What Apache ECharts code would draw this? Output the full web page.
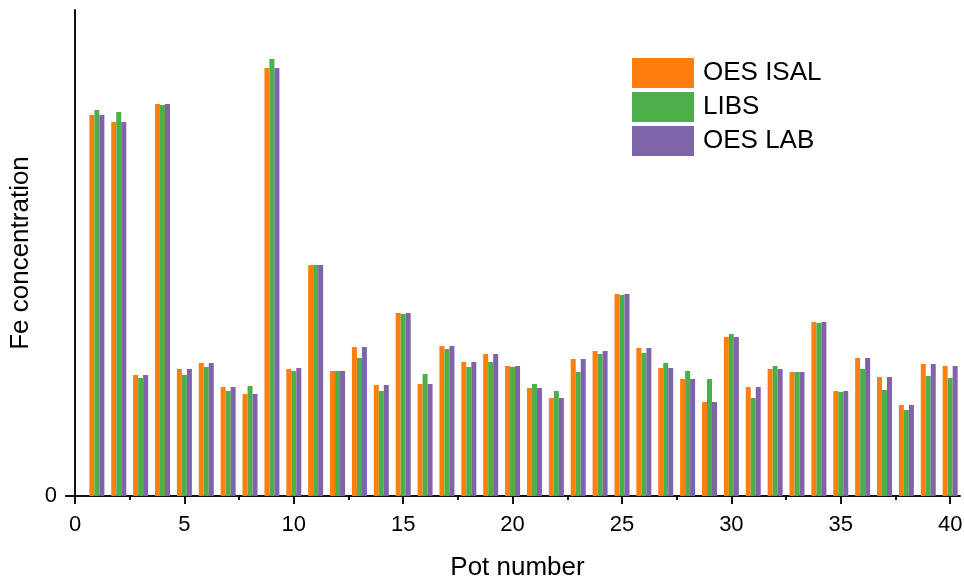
<!DOCTYPE html>
<html>
	<head>
		<meta charset="UTF-8">
		<title></title>
		<script src="https://cdn.jsdelivr.net/npm/echarts@6/dist/echarts.min.js" type="text/javascript" charset="utf-8"></script>
	</head>
	<body style="margin: 0;">
		<div id="chart" style="height: 577px;width: 964px;"></div>
		<script type="text/javascript">
			var pots = [];
			for (var i = 1; i <= 40; i++) {
				pots.push(i);
			}
			var oesIsal = [381, 374, 121, 392, 127, 133, 109, 102, 428, 127,
				231, 125, 149, 111, 183, 112, 150, 134, 142, 130,
				108, 98, 137, 145, 202, 148, 128, 117, 94, 159,
				109, 127, 124, 174, 105, 138, 119, 91, 132, 130];
			var libs = [386, 384, 118, 391, 121, 129, 105, 110, 437, 125,
				231, 125, 138, 105, 182, 122, 147, 129, 134, 129,
				112, 105, 124, 142, 201, 143, 133, 125, 117, 162,
				98, 130, 124, 173, 104, 127, 106, 86, 120, 118];
			var oesLab = [381, 374, 121, 392, 127, 133, 109, 102, 428, 128,
				231, 125, 149, 111, 183, 112, 150, 134, 142, 130,
				108, 98, 137, 145, 202, 148, 128, 117, 94, 159,
				109, 127, 124, 174, 105, 138, 119, 91, 132, 130];
			var xTicks = [0, 5, 10, 15, 20, 25, 30, 35, 40];
			var xMinorTicks = [2.5, 7.5, 12.5, 17.5, 22.5, 27.5, 32.5, 37.5];
			var colors = ['#fe7f0e', '#4daf4a', '#8064aa'];

			function pairs(values) {
				return pots.map((p, i) => [p, values[i]]);
			}

			var font = 'Liberation Sans, Arial, sans-serif';
			var chart = echarts.init(document.getElementById('chart'));
			var option = {
				animation: false,
				color: colors,
				grid: {left: 75, right: 4, top: 10, bottom: 81, outerBoundsMode: 'none'},
				legend: {
					orient: 'vertical',
					left: 627,
					top: 53,
					icon: 'rect',
					itemWidth: 62,
					itemHeight: 30,
					itemGap: 4,
					textStyle: {fontSize: 26, fontFamily: font, color: '#000', padding: [0, 0, 0, 4]},
					data: ['OES ISAL', 'LIBS', 'OES LAB']
				},
				xAxis: [
					{
						type: 'value',
						min: 0,
						max: 40.45,
						interval: 5,
						name: 'Pot number',
						nameLocation: 'middle',
						nameGap: 59,
						nameTextStyle: {fontSize: 26, fontFamily: font, color: '#000'},
						splitLine: {show: false},
						axisLine: {show: true, lineStyle: {color: '#111', width: 2}},
						axisTick: {show: true, length: 8, customValues: xTicks, lineStyle: {color: '#111', width: 2}},
						axisLabel: {fontSize: 22, fontFamily: font, color: '#000', margin: 18, customValues: xTicks}
					},
					{
						type: 'value',
						min: 0,
						max: 40.45,
						position: 'bottom',
						splitLine: {show: false},
						axisLine: {show: false},
						axisTick: {show: true, length: 4, customValues: xMinorTicks, lineStyle: {color: '#111', width: 2}},
						axisLabel: {show: false}
					}
				],
				yAxis: {
					type: 'value',
					min: 0,
					max: 486,
					name: 'Fe concentration',
					nameLocation: 'middle',
					nameGap: 31,
					nameTextStyle: {fontSize: 26, fontFamily: font, color: '#000'},
					splitLine: {show: false},
					axisLine: {show: true, lineStyle: {color: '#111', width: 2}},
					axisTick: {show: true, length: 10, customValues: [0], lineStyle: {color: '#111', width: 2}},
					axisLabel: {fontSize: 22, fontFamily: font, color: '#000', margin: 18, customValues: [0]}
				},
				series: [
					{name: 'OES ISAL', type: 'bar', barWidth: 5, barGap: '0%', data: pairs(oesIsal)},
					{name: 'LIBS', type: 'bar', barWidth: 5, barGap: '0%', data: pairs(libs)},
					{name: 'OES LAB', type: 'bar', barWidth: 5, barGap: '0%', data: pairs(oesLab)}
				]
			};
			chart.setOption(option, true);
		</script>
	</body>
</html>
